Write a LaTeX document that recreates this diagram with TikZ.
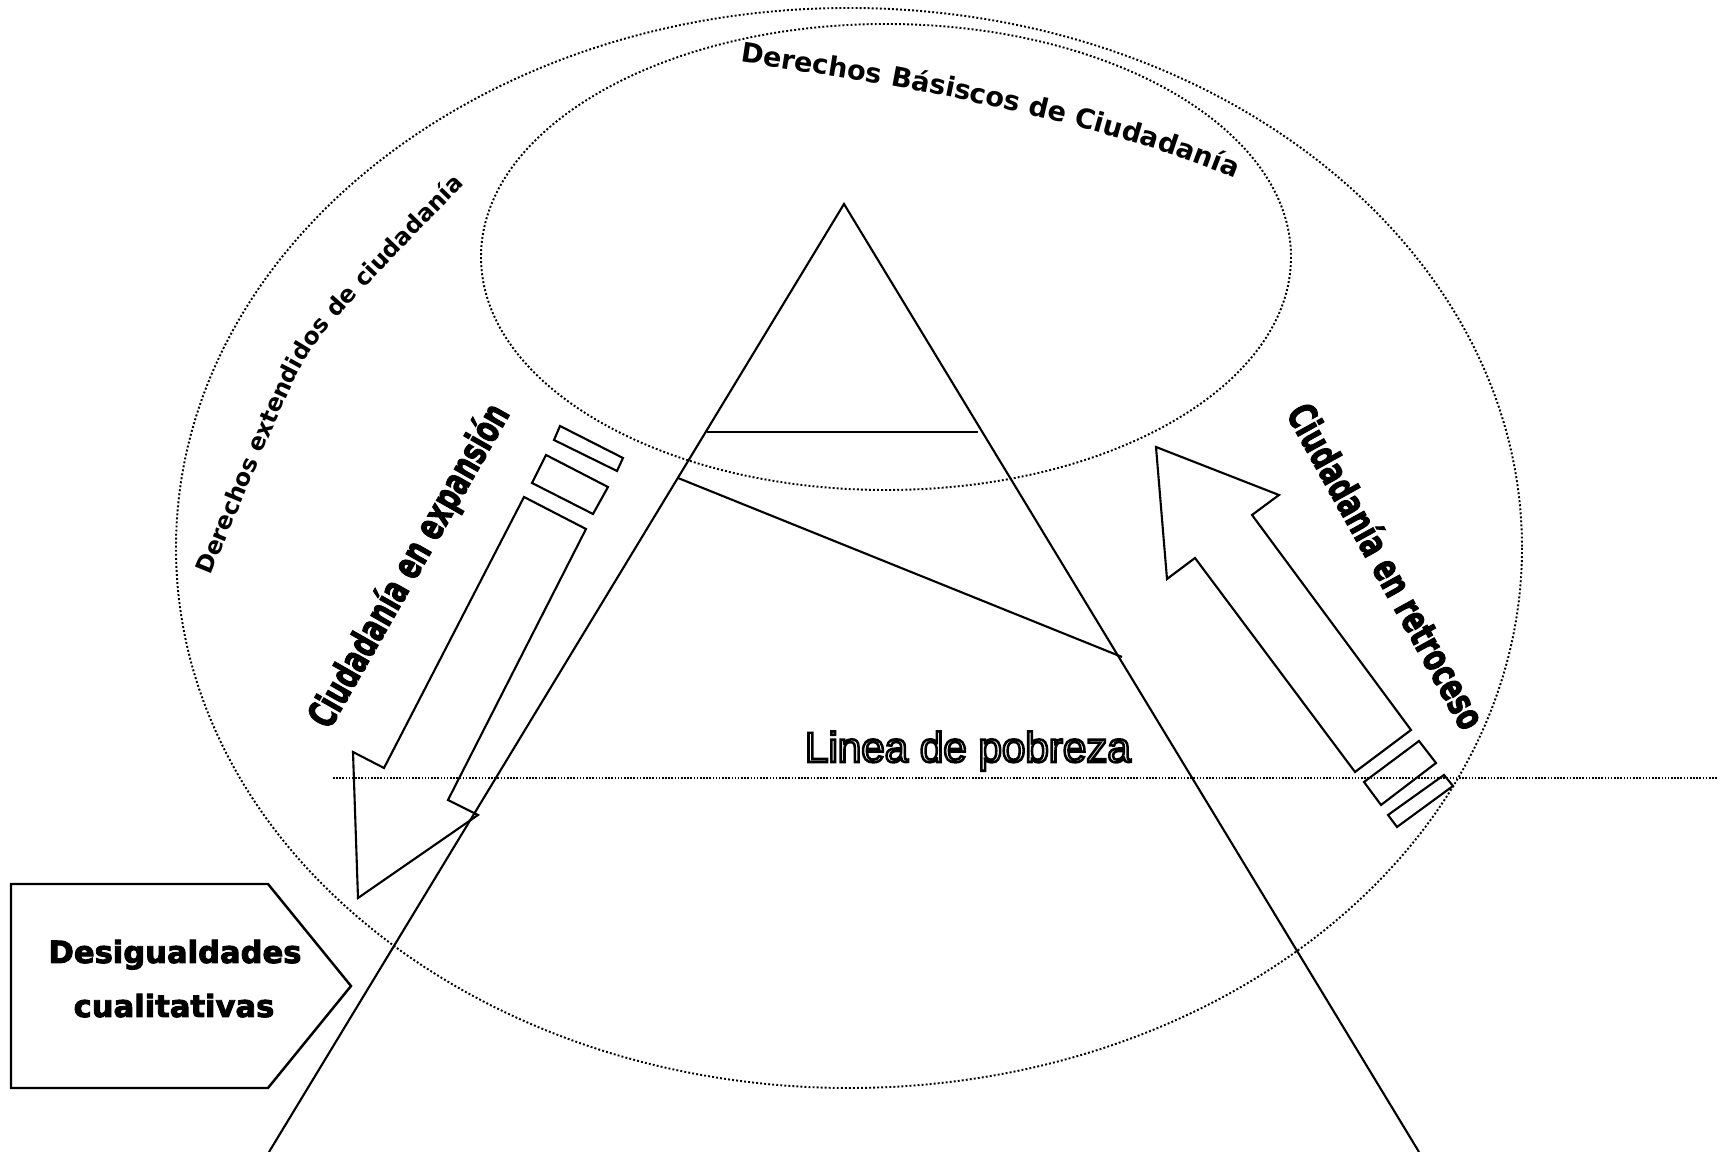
\documentclass[tikz,border=0pt]{standalone}
\usepackage{graphicx}
\usepackage{fontspec}
\setmainfont{Liberation Sans}
\newfontfamily\dvs{DejaVu Sans}
\newfontfamily\heavy{DejaVu Sans}[FakeBold=3]
\newfontfamily\outlfont{Liberation Sans}[FakeBold=6]
\usetikzlibrary{decorations.text}
\newcommand\outltext[1]{{\color{white}\special{pdf:literal direct 0 G}\outlfont #1}}
\begin{document}
\begin{tikzpicture}[x=0.1mm,y=-0.1mm,
  solidline/.style={line width=0.6pt, line join=miter},
  dotline/.style={line width=0.55pt, dash pattern=on 0.55pt off 0.6pt},
  fineline/.style={line width=0.6pt, dash pattern=on 0.45pt off 0.45pt},
  boldlbl/.style={font=\heavy\bfseries\fontsize{8.7}{10}\selectfont, anchor=base, inner sep=0pt},
  rotlbl/.style={font=\heavy\bfseries\fontsize{11}{13}\selectfont, anchor=base, inner sep=0pt},
]
\useasboundingbox (0,0) rectangle (1727,1152);

% ellipses
\draw[dotline] (849,548) ellipse [x radius=673, y radius=540];
\draw[dotline] (886,257) ellipse [x radius=405, y radius=233];

% triangle
\coordinate (apex) at (844,204);
\coordinate (bl) at (269,1152);
\coordinate (br) at (1419,1152);
\draw[solidline] (bl) -- (apex) -- (br);
\coordinate (h1) at (707,432);
\coordinate (h2) at (978,432);
\draw[solidline] (h1) -- (h2);
\coordinate (s1) at (678,478);
\coordinate (s2) at (1122,657);
\draw[solidline] (s1) -- (s2);

% poverty line
\coordinate (p1) at (333,778);
\coordinate (p2) at (1718,778);
\draw[fineline] (p1) -- (p2);
\node[anchor=base, inner sep=0pt, font=\fontsize{12}{14}\selectfont] (pob) at (968,762) {\outltext{Linea de pobreza}};

% left arrow (expansion)
\draw[solidline] (524,497) -- (586,529) -- (448,800) -- (478,815) -- (358,898) -- (353,752) -- (384,768) -- cycle;
\draw[solidline] (546,455) -- (608,487) -- (593,514) -- (532,483) -- cycle;
\draw[solidline] (560,426) -- (623,458) -- (617,471) -- (554,440) -- cycle;

% right arrow (retroceso)
\draw[solidline] (1156,447) -- (1279,495) -- (1252,515) -- (1411,730) -- (1355,772) -- (1195,558) -- (1167,579) -- cycle;
\draw[solidline] (1364,782) -- (1419,741) -- (1436,763) -- (1381,805) -- cycle;
\draw[solidline] (1388,815) -- (1444,775) -- (1453,786) -- (1397,827) -- cycle;

% rotated labels
\node[rotlbl, rotate=60.3] (exp) at (420,572) {\resizebox{36.5mm}{\height}{Ciudadanía en expansión}};
\node[rotlbl, rotate=-61] (ret) at (1374,573) {\resizebox{36.5mm}{\height}{Ciudadanía en retroceso}};

% pentagon
\draw[line width=0.7pt] (11,884) -- (268,884) -- (351,986) -- (268,1088) -- (11,1088) -- cycle;
\node[boldlbl] (des1) at (175,963) {Desigualdades};
\node[boldlbl] (des2) at (174,1017) {cualitativas};

% curved labels
\path[decorate, decoration={text along path, text align=left,
   text={|\dvs\bfseries\fontsize{6.7}{8}\selectfont|Derechos extendidos de ciudadanía}}]
   plot[smooth] coordinates {(211,576) (296,377) (350,304) (466,183) (500,155)};
\path[decorate, decoration={text along path, text align=left,
   text={|\dvs\bfseries\fontsize{7.7}{9}\selectfont|Derechos Básiscos de Ciudadanía}}]
   plot[smooth] coordinates {(740,62) (893,86) (1040,117) (1158,150) (1250,185) (1290,210)};
\end{tikzpicture}
\end{document}
